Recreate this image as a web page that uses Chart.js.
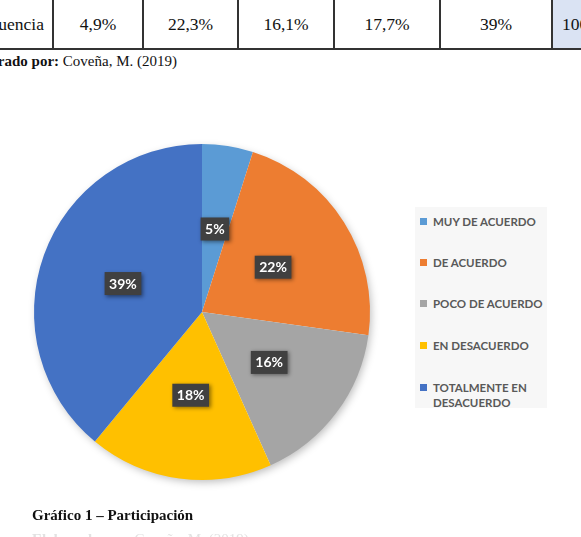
<!DOCTYPE html>
<html>
<head>
<meta charset="utf-8">
<script src="https://cdn.jsdelivr.net/npm/chart.js@4/dist/chart.umd.min.js"></script>
<style>
  html, body { margin:0; padding:0; background:#fff; width:581px; height:537px; overflow:hidden; position:relative; }
  .abs { position:absolute; white-space:nowrap; }
  .serif { font-family:"Liberation Serif","Times New Roman",serif; color:#111; }
  .vline { position:absolute; top:0; width:1.5px; height:49px; background:#333; }
  .cell { position:absolute; top:0; height:49px; line-height:49px; text-align:center; font-size:17.5px; }
  #legend { position:absolute; left:415px; top:207px; width:132px; height:201px; background:#f7f7f7; }
  .li { position:absolute; left:5px; width:125px; font-family:Lato,"Open Sans",sans-serif; font-weight:700; font-size:11.5px; color:#595959; line-height:15px; white-space:nowrap; }
  .sw { position:absolute; left:0; top:4px; width:7px; height:7px; }
  .lt { position:absolute; left:13px; top:0; white-space:nowrap; }
</style>
</head>
<body>
<!-- table row -->
<div class="abs" style="left:553px;top:0;width:28px;height:49px;background:#dae3f3;"></div>
<div class="abs" style="left:0;top:48px;width:581px;height:1.5px;background:#333;"></div>
<div id="tablerow"></div>
<div class="abs serif" style="right:537px;top:0;height:49px;line-height:49px;font-size:17.5px;">Frecuencia</div>
<div class="abs serif" style="left:562px;top:0;height:49px;line-height:49px;font-size:17.5px;">100%</div>
<div class="abs serif" style="right:404px;top:53px;font-size:15px;"><b>Elaborado por:</b> Coveña, M. (2019)</div>

<canvas id="c" style="position:absolute;left:2px;top:112px;width:400px;height:400px;" width="400" height="400"></canvas>
<div id="legend"></div>

<div class="abs serif" style="left:32px;top:507px;font-size:15px;font-weight:bold;">Gráfico 1 – Participación</div>
<div class="abs serif" style="left:32px;top:531px;font-size:15px;color:#e2e2e2;"><b>Elaborado por:</b> Coveña, M. (2019)</div>

<script>
const categories = ["MUY DE ACUERDO", "DE ACUERDO", "POCO DE ACUERDO", "EN DESACUERDO", "TOTALMENTE EN DESACUERDO"];
const legendLines = [["MUY DE ACUERDO"], ["DE ACUERDO"], ["POCO DE ACUERDO"], ["EN DESACUERDO"], ["TOTALMENTE EN", "DESACUERDO"]];
const values = [4.9, 22.3, 16.1, 17.7, 39];
const tableText = ["4,9%", "22,3%", "16,1%", "17,7%", "39%"];
const sliceLabels = ["5%", "22%", "16%", "18%", "39%"];
const colors = ["#5b9bd5", "#ed7d31", "#a5a5a5", "#ffc000", "#4472c4"];

// table row
const colEdges = [53, 143, 238, 334, 440, 552];
const tr = document.getElementById('tablerow');
colEdges.forEach(x => { const d = document.createElement('div'); d.className='vline'; d.style.left = (x-0.75)+'px'; tr.appendChild(d); });
tableText.forEach((t, i) => {
  const d = document.createElement('div'); d.className = 'cell serif';
  d.style.left = colEdges[i] + 'px'; d.style.width = (colEdges[i+1]-colEdges[i]) + 'px';
  d.textContent = t; tr.appendChild(d);
});

// legend
const legendTops = [7, 48, 89, 131, 173];
const lg = document.getElementById('legend');
categories.forEach((c, i) => {
  const it = document.createElement('div'); it.className='li'; it.style.top = legendTops[i]+'px';
  const sw = document.createElement('div'); sw.className='sw'; sw.style.background = colors[i];
  const tx = document.createElement('div'); tx.className='lt'; tx.innerHTML = legendLines[i].join('<br>');
  it.appendChild(sw); it.appendChild(tx); lg.appendChild(it);
});

const shadowPlugin = {
  id: 'pieShadow',
  beforeDatasetsDraw(chart) {
    const arc = chart.getDatasetMeta(0).data[0];
    if (!arc) return;
    const ctx = chart.ctx;
    ctx.save();
    ctx.shadowColor = 'rgba(0,0,0,0.28)';
    ctx.shadowBlur = 9;
    ctx.shadowOffsetX = 2;
    ctx.shadowOffsetY = 3;
    ctx.fillStyle = '#ffffff';
    ctx.beginPath();
    ctx.arc(arc.x, arc.y, arc.outerRadius - 1, 0, Math.PI*2);
    ctx.fill();
    ctx.restore();
  }
};

const labelPlugin = {
  id: 'boxLabels',
  afterDatasetsDraw(chart) {
    const ctx = chart.ctx;
    const meta = chart.getDatasetMeta(0);
    ctx.save();
    ctx.font = 'bold 14px Lato, "Open Sans", sans-serif';
    ctx.textAlign = 'center';
    ctx.textBaseline = 'middle';
    meta.data.forEach((el, i) => {
      const p = el.tooltipPosition();
      const t = sliceLabels[i];
      const w = ctx.measureText(t).width + 9;
      const h = 23;
      ctx.save();
      ctx.shadowColor = 'rgba(0,0,0,0.45)';
      ctx.shadowBlur = 4;
      ctx.shadowOffsetX = 1.5;
      ctx.shadowOffsetY = 1.5;
      ctx.fillStyle = '#404040';
      ctx.fillRect(p.x - w/2, p.y - h/2, w, h);
      ctx.restore();
      ctx.fillStyle = '#ffffff';
      ctx.fillText(t, p.x, p.y + 0.5);
    });
    ctx.restore();
  }
};

new Chart(document.getElementById('c'), {
  type: 'pie',
  data: {
    labels: categories,
    datasets: [{ data: values, backgroundColor: colors, borderWidth: 0 }]
  },
  options: {
    responsive: false,
    animation: false,
    layout: { padding: 32 },
    plugins: { legend: { display: false }, tooltip: { enabled: false } }
  },
  plugins: [shadowPlugin, labelPlugin]
});
</script>
</body>
</html>
